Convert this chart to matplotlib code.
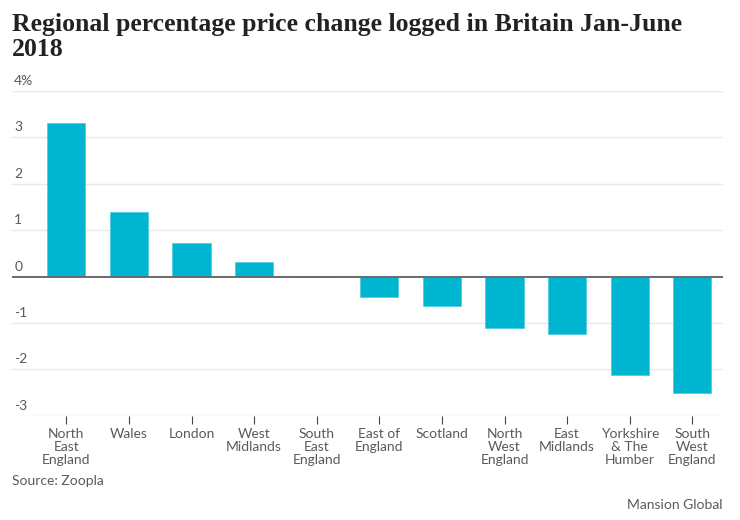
import matplotlib
matplotlib.use("Agg")
import matplotlib.pyplot as plt
import matplotlib.transforms as mtransforms

regions = ["North\nEast\nEngland", "Wales", "London", "West\nMidlands", "South\nEast\nEngland",
           "East of\nEngland", "Scotland", "North\nWest\nEngland", "East\nMidlands",
           "Yorkshire\n& The\nHumber", "South\nWest\nEngland"]
changes = [3.3, 1.4, 0.73, 0.32, 0.02, -0.45, -0.64, -1.1, -1.23, -2.13, -2.52]
ytick_vals = [4, 3, 2, 1, 0, -1, -2, -3]
ytick_labels = ["4%", "3", "2", "1", "0", "-1", "-2", "-3"]

title = "Regional percentage price change logged in Britain Jan-June\n2018"
source = "Source: Zoopla"
credit = "Mansion Global"

bar_color = "#00b5cf"
text_gray = "#5a5a5a"

fig = plt.figure(figsize=(7.4, 5.2), dpi=100)
ax = fig.add_axes([0.0166, 0.2006, 0.9604, 0.6244])

x = list(range(len(regions)))
ax.bar(x, changes, width=0.61, color=bar_color, edgecolor="#3cc6da", linewidth=0.4, zorder=3)

ax.set_xlim(-0.864, 10.49)
ax.set_ylim(-3, 4)

for v in ytick_vals:
    if v == 0:
        ax.axhline(v, color="#6a6a6a", linewidth=1.4, zorder=4)
    else:
        ax.axhline(v, color="#e8e8e8", linewidth=1.0, zorder=1)

trans = mtransforms.offset_copy(ax.get_yaxis_transform(), fig=fig, x=2, y=4, units="dots")
for v, lab in zip(ytick_vals, ytick_labels):
    ax.text(0.0, v, lab, transform=trans, ha="left", va="bottom",
            fontsize=10, color=text_gray, family="Lato")

for s in ax.spines.values():
    s.set_visible(False)
ax.set_yticks([])
ax.set_xticks(x)
ax.set_xticklabels(regions, fontsize=10, color=text_gray, family="Lato", linespacing=1.08)
ax.tick_params(axis="x", length=6, width=0.8, color="#444444", pad=3)

fig.text(0.0166, 0.975, title, ha="left", va="top", fontsize=18.5, fontweight="bold",
         family="Liberation Serif", color="#222222", linespacing=1.1)
fig.text(0.0166, 0.075, source, ha="left", va="center", fontsize=10, color=text_gray,
         family="Lato")
fig.text(0.977, 0.028, credit, ha="right", va="center", fontsize=10, color=text_gray,
         family="Lato")

fig.savefig("out.png", dpi=100)
